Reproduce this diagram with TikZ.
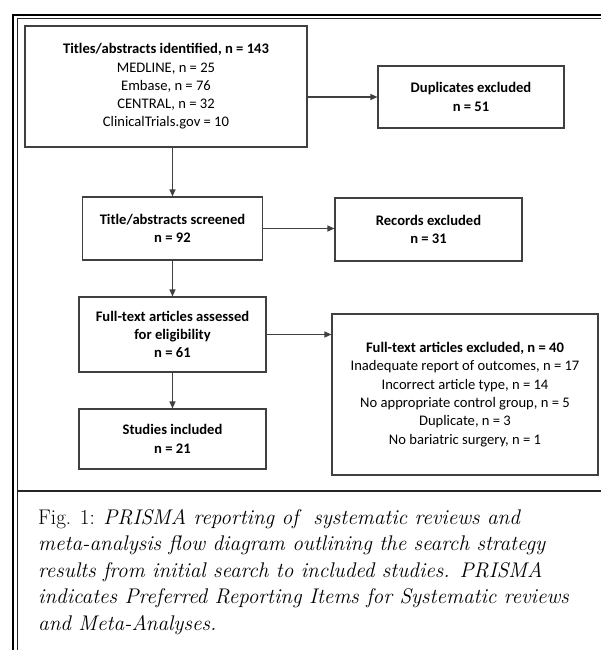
\documentclass[tikz,border=0pt]{standalone}
\usepackage{fontspec}
\newfontfamily\boxfont{Carlito}
\usetikzlibrary{arrows.meta,calc}
\tikzset{
  box/.style={draw=black!75, line width=1.1pt, rectangle, inner sep=0pt, align=center,
    font=\boxfont\fontsize{14.6}{18.3}\selectfont},
  arr/.style={draw=black!75, line width=1.1pt, -{Triangle[length=7pt,width=6pt]}},
  frameouter/.style={line width=2.2pt, black},
  frameinner/.style={line width=1pt, black!85},
  sepline/.style={line width=1.5pt, black!85},
  captext/.style={anchor=north west, inner sep=0pt, align=left,
    font=\fontsize{21.2}{26.5}\selectfont}
}
\begin{document}
\begin{tikzpicture}[x=1pt,y=-1pt]
\useasboundingbox (0,0) rectangle (601,650);
% frame
\draw[frameouter] (13,650) -- (13,15) -- (601,15);
\draw[frameinner] (17.5,650) -- (17.5,18.5) -- (601,18.5);
\draw[sepline] (17.5,491) -- (601,491);
% boxes
\node[box, minimum width=282pt, minimum height=121pt] (A) at (166,86.5)
  {\textbf{Titles/abstracts identified, n = 143}\\MEDLINE, n = 25\\Embase, n = 76\\CENTRAL, n = 32\\ClinicalTrials.gov = 10};
\node[box, minimum width=186pt, minimum height=62pt] (dup) at (471,97)
  {\textbf{Duplicates excluded}\\\textbf{n = 51}};
\node[box, minimum width=180pt, minimum height=63pt] (B) at (172.5,228.5)
  {\textbf{Title/abstracts screened}\\\textbf{n = 92}};
\node[box, minimum width=187pt, minimum height=63pt] (rec) at (428.5,229.5)
  {\textbf{Records excluded}\\\textbf{n = 31}};
\node[box, minimum width=187pt, minimum height=75pt] (C) at (172.5,334.5)
  {\textbf{Full-text articles assessed}\\\textbf{for eligibility}\\\textbf{n = 61}};
\node[box, minimum width=266pt, minimum height=161pt] (exc) at (465,394.5)
  {\textbf{Full-text articles excluded, n = 40}\\Inadequate report of outcomes, n = 17\\Incorrect article type, n = 14\\No appropriate control group, n = 5\\Duplicate, n = 3\\No bariatric surgery, n = 1};
\node[box, minimum width=187pt, minimum height=60pt] (D) at (172.5,439)
  {\textbf{Studies included}\\\textbf{n = 21}};
% connectors
\draw[arr] (A.south -| B.north) -- (B.north);
\draw[arr] (A.east |- dup.west) -- (dup.west);
\draw[arr] (B.east) -- (B.east -| rec.west);
\draw[arr] (B.south) -- (C.north);
\draw[arr] (C.east) -- (C.east -| exc.west);
\draw[arr] (C.south) -- (D.north);
% caption
\node[captext] (caption) at (38,509)
  {Fig. 1: \textit{PRISMA reporting of\ \ systematic reviews and}\\
   \textit{meta-analysis flow diagram outlining the search strategy}\\
   \textit{results from initial search to included studies. PRISMA}\\
   \textit{indicates Preferred Reporting Items for Systematic reviews}\\
   \textit{and Meta-Analyses.}};
\end{tikzpicture}
\end{document}
